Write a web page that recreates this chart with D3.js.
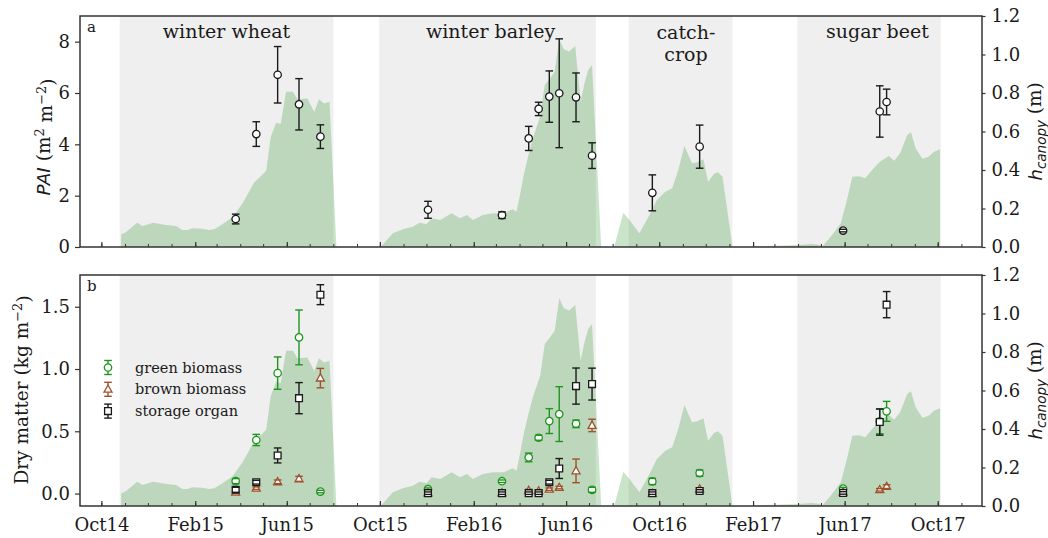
<!DOCTYPE html>
<html>
<head>
<meta charset="utf-8">
<script src="https://cdn.jsdelivr.net/npm/d3@7"></script>
<style>
  body { margin: 0; background: #fff; }
  svg text { font-family: "DejaVu Serif", serif; fill: #1a1a1a; }
</style>
</head>
<body>
<svg id="chart" width="1048" height="538"></svg>
<script>
// ---- crop seasons (shaded periods) ----
const seasonNames  = ["winter wheat", "winter barley", "catch-|crop", "sugar beet"];
const seasonStarts = ["2014-10-25", "2015-09-30", "2016-08-22", "2017-03-31"];
const seasonEnds   = ["2015-08-01", "2016-07-10", "2017-01-05", "2017-10-05"];
const seasonLabelAt = ["2015-03-14", "2016-02-23", "2016-11-05", "2017-07-14"];

// ---- canopy height (m), null separates the cropping periods ----
const canopyDates = [
  "2014-10-27","2014-11-02","2014-11-17","2014-11-24","2014-12-08","2014-12-25","2015-01-07","2015-01-15",
  "2015-01-22","2015-01-28","2015-02-10","2015-02-19","2015-02-26","2015-03-09","2015-03-22","2015-04-04",
  "2015-04-19","2015-05-05","2015-05-11","2015-05-18","2015-05-24","2015-05-31","2015-06-09","2015-06-15",
  "2015-06-28","2015-07-07","2015-07-13","2015-07-20","2015-07-27","2015-08-05",
  "2015-09-01",
  "2015-10-02","2015-10-18","2015-10-31","2015-11-13","2015-11-22","2015-12-01","2015-12-08","2015-12-19",
  "2016-01-03","2016-01-14","2016-01-23","2016-01-31","2016-02-13","2016-02-26","2016-03-11","2016-03-23",
  "2016-03-28","2016-04-02","2016-04-06","2016-04-12","2016-04-19","2016-04-28","2016-05-04","2016-05-11",
  "2016-05-17","2016-05-23","2016-05-29","2016-06-05","2016-06-13","2016-06-20","2016-06-25","2016-06-30",
  "2016-07-05","2016-07-17",
  "2016-07-25",
  "2016-08-03","2016-08-15","2016-08-23","2016-09-05","2016-09-17","2016-09-28","2016-10-09","2016-10-18",
  "2016-10-26","2016-11-03","2016-11-13","2016-11-20","2016-11-28","2016-12-04","2016-12-12","2016-12-17",
  "2016-12-23","2017-01-05",
  "2017-01-20",
  "2017-02-03","2017-03-01","2017-04-01","2017-04-19","2017-04-28","2017-05-03","2017-05-14","2017-05-27",
  "2017-06-04","2017-06-11","2017-06-20","2017-06-28","2017-07-09","2017-07-18","2017-07-29","2017-08-05",
  "2017-08-13","2017-08-22","2017-08-27","2017-09-02","2017-09-11","2017-09-19","2017-09-26","2017-10-04"
];
const canopyHeights = [
  0.066,0.076,0.126,0.109,0.126,0.114,0.109,0.088,
  0.088,0.097,0.095,0.088,0.092,0.119,0.154,0.227,
  0.334,0.396,0.573,0.646,0.639,0.807,0.807,0.767,
  0.772,0.701,0.767,0.746,0.755,0,
  null,
  0,0.071,0.092,0.105,0.126,0.118,0.149,0.140,
  0.175,0.149,0.166,0.140,0.166,0.175,0.175,0.196,
  0.183,0.279,0.365,0.469,0.573,0.677,0.842,0.876,
  0.911,1.079,1.027,1.015,1.044,0.755,0.850,0.920,
  0.945,0,
  null,
  0,0.178,0.140,0.071,0.157,0.244,0.287,0.305,
  0.400,0.525,0.435,0.440,0.456,0.339,0.380,0.388,
  0.365,0,
  null,
  0.004,0.006,0.010,0.015,0.012,0.004,0.054,0.123,
  0.244,0.365,0.368,0.357,0.409,0.445,0.473,0.448,
  0.490,0.582,0.596,0.513,0.458,0.469,0.495,0.508
];

// ---- field sampling dates ----
const sampleDates = [
  "2015-03-26","2015-04-22","2015-05-20","2015-06-17","2015-07-15",
  "2015-12-03","2016-03-09","2016-04-13","2016-04-26","2016-05-10","2016-05-23","2016-06-14","2016-07-05",
  "2016-09-22","2016-11-23",
  "2017-05-30","2017-07-17","2017-07-26"
];
// plant area index (m2 m-2) and its standard deviation
const paiMean = [1.09,4.40,6.71,5.56,4.30, 1.45,1.24,4.23,5.38,5.86,5.99,5.83,3.56, 2.11,3.91, 0.64,5.28,5.65];
const paiSd   = [0.19,0.48,1.10,1.00,0.46, 0.33,0.13,0.47,0.26,1.00,2.12,0.95,0.50, 0.70,0.84, 0.05,1.00,0.50];
// dry matter (kg m-2)
const greenMean   = [0.100,0.430,0.967,1.254,0.016, 0.035,0.099,0.290,0.448,0.582,0.638,0.560,0.030, 0.097,0.164, 0.040,0.580,0.660];
const greenSd     = [0.020,0.045,0.130,0.220,0.010, 0.010,0.010,0.035,0.020,0.100,0.220,0.030,0.020, 0.025,0.025, 0.010,0.100,0.080];
const brownMean   = [0.010,0.043,0.094,0.118,0.927, 0.005,0.005,0.024,0.020,0.035,0.048,0.182,0.547, 0.000,0.035, 0.010,0.030,0.056];
const brownSd     = [0.010,0.010,0.015,0.020,0.078, 0.005,0.005,0.010,0.010,0.010,0.010,0.095,0.050, 0.005,0.010, 0.005,0.010,0.015];
const storageMean = [0.030,0.091,0.306,0.766,1.597, 0.003,0.003,0.003,0.003,0.091,0.201,0.863,0.879, 0.003,0.021, 0.005,0.574,1.517];
const storageSd   = [0.020,0.015,0.060,0.125,0.080, 0.010,0.010,0.010,0.010,0.015,0.080,0.145,0.128, 0.010,0.010, 0.010,0.105,0.105];

// ---- axis ticks ----
const xTickDates  = ["2014-10-01","2015-02-01","2015-06-01","2015-10-01","2016-02-01","2016-06-01","2016-10-01","2017-02-01","2017-06-01","2017-10-01"];
const xTickLabels = ["Oct14","Feb15","Jun15","Oct15","Feb16","Jun16","Oct16","Feb17","Jun17","Oct17"];
const paiTicks    = [0, 2, 4, 6, 8];
const dryTicks    = [0, 0.5, 1.0, 1.5];
const heightTicks = [0, 0.2, 0.4, 0.6, 0.8, 1.0, 1.2];
const seriesNames = ["green biomass", "brown biomass", "storage organ"];

// ---------------------------------------------------------------
const parse = d3.timeParse("%Y-%m-%d");
const svg = d3.select("#chart");
const L = 80, R = 982;
const ink = "#1a1a1a";
const frameColor = "#333333";
const greenCol = "#1f951f", brownCol = "#a0522d", blackCol = "#1a1a1a";

const x = d3.scaleTime()
  .domain([parse("2014-09-03"), parse("2017-11-28")])
  .range([L, R]);

const canopy = canopyDates.map((d, i) => ({ date: parse(d), h: canopyHeights[i] }));
const samples = sampleDates.map(parse);

const panels = [
  { key: "a", top: 16,  bottom: 247, yDomain: [0, 9],        yTicks: paiTicks, yFmt: d3.format("d") },
  { key: "b", top: 275, bottom: 506, yDomain: [-0.1, 1.755], yTicks: dryTicks, yFmt: d3.format(".1f") }
];

panels.forEach((p, pi) => {
  const g = svg.append("g");
  const y = d3.scaleLinear().domain(p.yDomain).range([p.bottom, p.top]);
  const yh = d3.scaleLinear().domain([0, 1.2]).range([p.bottom, p.top]);
  p.y = y; p.yh = yh;

  const clipId = "clip-" + p.key;
  svg.append("clipPath").attr("id", clipId)
    .append("rect").attr("x", L).attr("y", p.top).attr("width", R - L).attr("height", p.bottom - p.top);
  const plot = g.append("g").attr("clip-path", `url(#${clipId})`);

  // cropping periods
  plot.selectAll("rect.season").data(seasonStarts).join("rect")
    .attr("class", "season")
    .attr("x", (d) => x(parse(d)))
    .attr("width", (d, i) => x(parse(seasonEnds[i])) - x(parse(d)))
    .attr("y", p.top).attr("height", p.bottom - p.top)
    .attr("fill", "#efefef");

  // canopy height
  const area = d3.area()
    .defined(d => d.h !== null)
    .x(d => x(d.date))
    .y0(yh(0))
    .y1(d => yh(d.h));
  plot.append("path").datum(canopy)
    .attr("d", area)
    .attr("fill", "rgb(0,128,0)")
    .attr("fill-opacity", 0.21);

  // x axis: minor monthly ticks + major ticks, pointing inwards
  const minor = d3.axisBottom(x)
    .tickValues(d3.timeMonth.range(x.domain()[0], x.domain()[1]))
    .tickSizeInner(-3).tickSizeOuter(0).tickFormat("");
  g.append("g").attr("transform", `translate(0,${p.bottom})`).call(minor)
    .call(a => a.select(".domain").remove())
    .call(a => a.selectAll("line").attr("stroke", frameColor).attr("stroke-width", 1));

  const major = d3.axisBottom(x)
    .tickValues(xTickDates.map(parse))
    .tickSizeInner(-5).tickSizeOuter(0).tickPadding(12)
    .tickFormat((d, i) => pi === 1 ? xTickLabels[i] : "");
  g.append("g").attr("transform", `translate(0,${p.bottom})`).call(major)
    .call(a => a.select(".domain").remove())
    .call(a => a.selectAll("line").attr("stroke", frameColor).attr("stroke-width", 1.2))
    .call(a => a.selectAll("text").attr("font-size", 18).attr("fill", ink)
      .attr("font-family", "DejaVu Serif"));

  // left axis
  g.append("g").attr("transform", `translate(${L},0)`)
    .call(d3.axisLeft(y).tickValues(p.yTicks).tickFormat(p.yFmt).tickSizeInner(5).tickSizeOuter(0).tickPadding(5))
    .call(a => a.select(".domain").remove())
    .call(a => a.selectAll("line").attr("stroke", frameColor).attr("stroke-width", 1.2))
    .call(a => a.selectAll("text").attr("font-size", 18).attr("fill", ink).attr("font-family", "DejaVu Serif"));

  // right axis (canopy height)
  g.append("g").attr("transform", `translate(${R},0)`)
    .call(d3.axisRight(yh).tickValues(heightTicks).tickFormat(d3.format(".1f")).tickSizeInner(3.5).tickSizeOuter(0).tickPadding(6))
    .call(a => a.select(".domain").remove())
    .call(a => a.selectAll("line").attr("stroke", frameColor).attr("stroke-width", 1.2))
    .call(a => a.selectAll("text").attr("font-size", 18).attr("fill", ink).attr("font-family", "DejaVu Serif"));

  p.g = g;
  p.plot = plot;
});

// ---- markers with error bars: bars below the marker, caps above it ----
function markerPath(shape, cx, cy) {
  if (shape === "circle") {
    const r = 3.7;
    return `M${cx + r},${cy}A${r},${r},0,1,1,${cx - r},${cy}A${r},${r},0,1,1,${cx + r},${cy}Z`;
  }
  if (shape === "square") {
    const s = 3.4;
    return `M${cx - s},${cy - s}H${cx + s}V${cy + s}H${cx - s}Z`;
  }
  return `M${cx},${cy - 4.3}L${cx + 4},${cy + 2.9}L${cx - 4},${cy + 2.9}Z`;
}
function series(layer, y, means, sds, color, shape) {
  const gg = layer.append("g");
  const bars = gg.append("g").attr("stroke", color).attr("stroke-width", 1.4);
  samples.forEach((d, i) => {
    const cx = x(d);
    bars.append("line").attr("x1", cx).attr("x2", cx)
      .attr("y1", y(means[i] - sds[i])).attr("y2", y(means[i] + sds[i]));
  });
  gg.append("g").selectAll("path").data(samples).join("path")
    .attr("d", (d, i) => markerPath(shape, x(d), y(means[i])))
    .attr("fill", "#fff").attr("stroke", color).attr("stroke-width", 1.3);
  const caps = gg.append("g").attr("stroke", color).attr("stroke-width", 1.4);
  samples.forEach((d, i) => {
    const cx = x(d);
    [means[i] - sds[i], means[i] + sds[i]].forEach(v => {
      caps.append("line").attr("x1", cx - 3.8).attr("x2", cx + 3.8).attr("y1", y(v)).attr("y2", y(v));
    });
  });
}

const pa = panels[0], pb = panels[1];
series(pa.plot, pa.y, paiMean, paiSd, blackCol, "circle");
series(pb.plot, pb.y, greenMean, greenSd, greenCol, "circle");
series(pb.plot, pb.y, brownMean, brownSd, brownCol, "triangle");
series(pb.plot, pb.y, storageMean, storageSd, blackCol, "square");

// ---- season names (top panel) ----
seasonNames.forEach((name, i) => {
  const lines = name.split("|");
  const t = pa.g.append("text")
    .attr("x", x(parse(seasonLabelAt[i])))
    .attr("y", lines.length > 1 ? 38.5 : 37.5)
    .attr("text-anchor", "middle")
    .attr("font-size", 19);
  lines.forEach((ln, k) => {
    t.append("tspan").attr("x", x(parse(seasonLabelAt[i]))).attr("dy", k === 0 ? 0 : 22).text(ln);
  });
});

// ---- frames and panel letters ----
panels.forEach(p => {
  p.g.append("rect").attr("x", L).attr("y", p.top).attr("width", R - L).attr("height", p.bottom - p.top)
    .attr("fill", "none").attr("stroke", frameColor).attr("stroke-width", 1.5);
  p.g.append("text").attr("x", 87).attr("y", p.top + 15.5).attr("font-size", 15).text(p.key);
});

// ---- axis titles ----
function yTitle(cx, cy, parts) {
  const t = svg.append("text")
    .attr("transform", `translate(${cx},${cy}) rotate(-90)`)
    .attr("text-anchor", "middle").attr("font-size", 18.5);
  parts.forEach(pt => {
    const s = t.append("tspan").text(pt.text);
    if (pt.sans) s.attr("font-family", "DejaVu Sans").attr("font-style", "italic");
    if (pt.dy) s.attr("dy", pt.dy);
    if (pt.size) s.attr("font-size", pt.size);
  });
}
yTitle(49.5, 137, [
  { text: "PAI", sans: true },
  { text: " (m" },
  { text: "2", dy: "-0.45em", size: 13 },
  { text: " m", dy: "0.45em" },
  { text: "\u22122", dy: "-0.45em", size: 13 },
  { text: ")", dy: "0.45em" }
]);
yTitle(28, 390, [
  { text: "Dry matter (kg m" },
  { text: "\u22122", dy: "-0.45em", size: 13 },
  { text: ")", dy: "0.45em" }
]);
panels.forEach(p => {
  yTitle(1042, (p.top + p.bottom) / 2, [
    { text: "h", sans: true },
    { text: "canopy", sans: true, dy: "0.3em", size: 13.5 },
    { text: " (m)", dy: "-0.3em" }
  ]);
});

// ---- legend (bottom panel) ----
const legend = pb.g.append("g");
const legendStyles = [[greenCol, "circle"], [brownCol, "triangle"], [blackCol, "square"]];
seriesNames.forEach((name, i) => {
  const cy = 367.5 + i * 21.8, cx = 108;
  const [c, sh] = legendStyles[i];
  legend.append("line").attr("x1", cx).attr("x2", cx).attr("y1", cy - 7).attr("y2", cy + 7)
    .attr("stroke", c).attr("stroke-width", 1.4);
  legend.append("path").attr("d", markerPath(sh, cx, cy)).attr("fill", "#fff").attr("stroke", c).attr("stroke-width", 1.3);
  [cy - 7, cy + 7].forEach(yy => legend.append("line")
    .attr("x1", cx - 3.8).attr("x2", cx + 3.8).attr("y1", yy).attr("y2", yy)
    .attr("stroke", c).attr("stroke-width", 1.4));
  legend.append("text").attr("x", 135).attr("y", cy + 5).attr("font-size", 14.5).text(name);
});
</script>
</body>
</html>
